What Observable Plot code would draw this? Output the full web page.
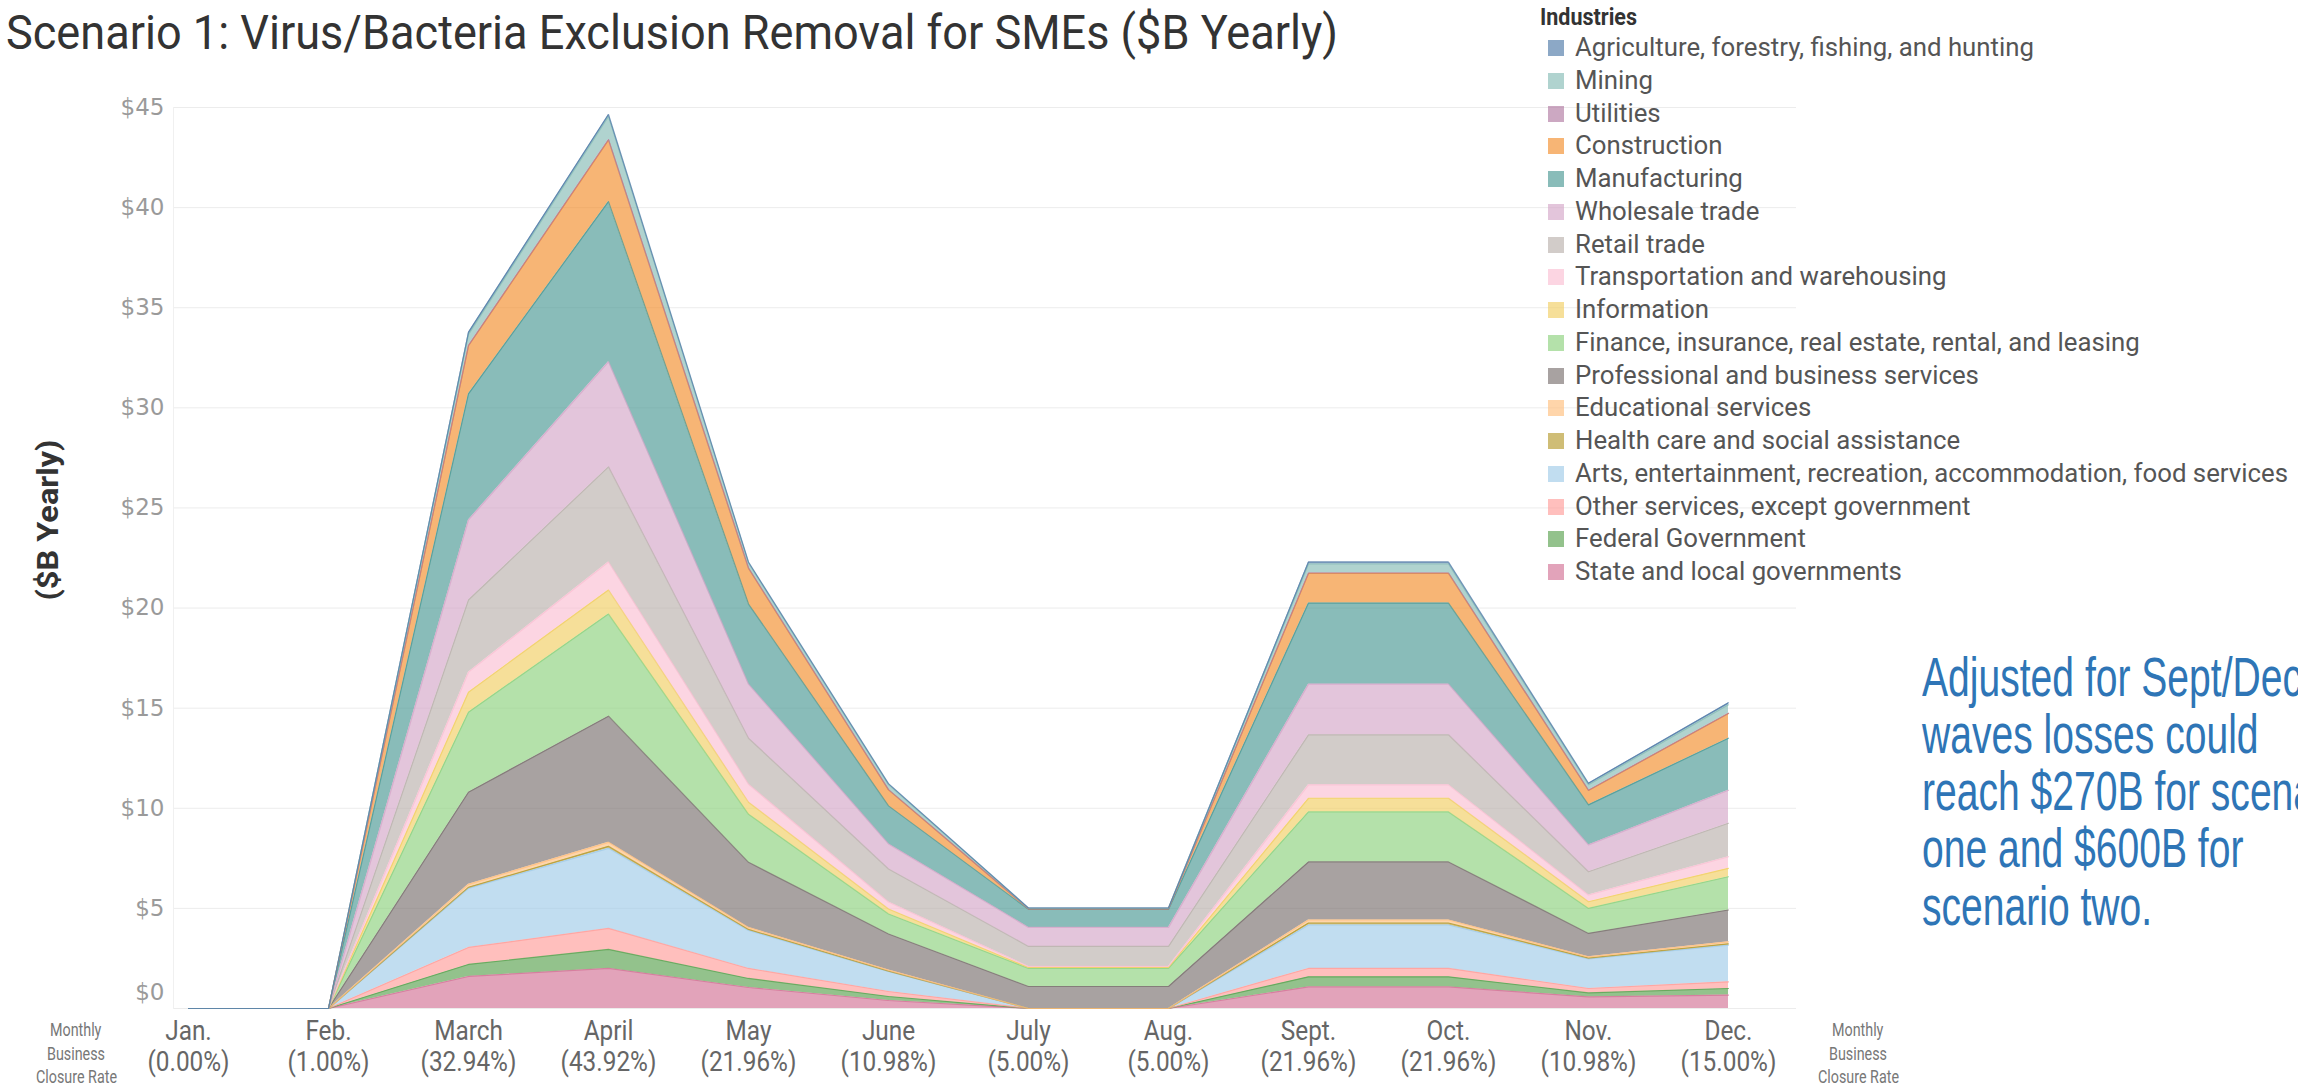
<!DOCTYPE html>
<html><head><meta charset="utf-8">
<script src="https://cdn.jsdelivr.net/npm/d3@7"></script>
<script src="https://cdn.jsdelivr.net/npm/@observablehq/plot@0.6"></script>
<style>
html,body{margin:0;padding:0;background:#fff;width:2298px;height:1088px;overflow:hidden;}
#root{position:relative;width:2298px;height:1088px;overflow:hidden;background:#fff;}
.abs{position:absolute;white-space:nowrap;}
</style></head><body><div id="root"></div>
<script>
// ---------- data ----------
const months = ["Jan.","Feb.","March","April","May","June","July","Aug.","Sept.","Oct.","Nov.","Dec."];
const closureRates = ["0.00%","1.00%","32.94%","43.92%","21.96%","10.98%","5.00%","5.00%","21.96%","21.96%","10.98%","15.00%"];
const yTicks = [0,5,10,15,20,25,30,35,40,45];
const industries = [
  "Agriculture, forestry, fishing, and hunting",
  "Mining",
  "Utilities",
  "Construction",
  "Manufacturing",
  "Wholesale trade",
  "Retail trade",
  "Transportation and warehousing",
  "Information",
  "Finance, insurance, real estate, rental, and leasing",
  "Professional and business services",
  "Educational services",
  "Health care and social assistance",
  "Arts, entertainment, recreation, accommodation, food services",
  "Other services, except government",
  "Federal Government",
  "State and local governments"
];
const industryColors = ["#4e79a7","#86bcb6","#b07aa1","#f28e2b","#499894","#d4a6c8","#bab0ac","#fabfd2","#f1ce63","#8cd17d","#79706e","#ffbe7d","#b6992d","#a0cbe8","#ff9d9a","#59a14f","#d37295"];
// $B yearly, Jan..Dec
const agriculture   = [0,0,0.10,0.10,0.05,0.05,0.02,0.02,0.10,0.10,0.07,0.10];
const mining        = [0,0,0.55,1.15,0.25,0.25,0.02,0.02,0.45,0.45,0.28,0.42];
const utilities     = [0,0,0.02,0.03,0.02,0.01,0,0,0.02,0.02,0.01,0.02];
const construction  = [0,0,2.40,3.07,1.78,0.80,0.03,0.03,1.48,1.48,0.72,1.23];
const manufacturing = [0,0,6.30,8.00,4.00,1.90,0.90,0.90,4.05,4.05,2.00,2.60];
const wholesale     = [0,0,4.00,5.25,2.70,1.25,0.95,0.95,2.53,2.53,1.34,1.65];
const retail        = [0,0,3.60,4.75,2.30,1.65,1.00,1.00,2.50,2.50,1.16,1.67];
const transport     = [0,0,1.00,1.40,0.90,0.35,0.05,0.05,0.67,0.67,0.34,0.58];
const information   = [0,0,1.00,1.20,0.60,0.25,0.05,0.05,0.68,0.68,0.33,0.42];
const finance       = [0,0,4.00,5.10,2.40,1.00,0.90,0.90,2.50,2.50,1.25,1.66];
const professional  = [0,0,4.60,6.30,3.25,1.80,1.10,1.10,2.90,2.90,1.17,1.59];
const educational   = [0,0,0.15,0.20,0.10,0.05,0,0,0.15,0.15,0.06,0.10];
const health        = [0,0,0.05,0.10,0.05,0.02,0,0,0.10,0.10,0.04,0.06];
const arts          = [0,0,2.95,4.00,1.90,1.00,0,0,2.17,2.17,1.48,1.84];
const otherServices = [0,0,0.85,1.05,0.50,0.25,0,0,0.42,0.42,0.22,0.33];
const federal       = [0,0,0.60,0.95,0.45,0.20,0,0,0.50,0.50,0.20,0.33];
const stateLocal    = [0,0,1.60,2.00,1.05,0.40,0,0,1.08,1.08,0.58,0.67];
const seriesValues = [agriculture,mining,utilities,construction,manufacturing,wholesale,retail,transport,information,finance,professional,educational,health,arts,otherServices,federal,stateLocal];
const titleText = "Scenario 1: Virus/Bacteria Exclusion Removal for SMEs ($B Yearly)";
const yLabelText = "($B Yearly)";
const legendTitle = "Industries";
const sideLabel = ["Monthly","Business","Closure Rate"];
const noteLines = ["Adjusted for Sept/Dec","waves losses could","reach $270B for scenario","one and $600B for","scenario two."];

// ---------- table (bottom layer first) ----------
const rows = [];
for (let k = industries.length - 1; k >= 0; k--) {
  for (let i = 0; i < months.length; i++) rows.push({m: i, industry: industries[k], value: seriesValues[k][i]});
}

const root = document.getElementById("root");
const TOP = 70, W = 1800, H = 1018;

const chart = Plot.plot({
  width: W, height: H,
  marginLeft: 173, marginRight: 4, marginTop: 37, marginBottom: 80,
  style: {background: "transparent", fontFamily: "Roboto", overflow: "visible"},
  x: {type: "linear", domain: [0, 11], range: [188, 1728]},
  y: {domain: [0, 45], range: [1008 - TOP, 107 - TOP]},
  color: {domain: industries, range: industryColors},
  marks: [
    Plot.gridY(yTicks, {stroke: "#ececec", strokeOpacity: 1}),
    Plot.frame({anchor: "left", stroke: "#f0f0f0"}),
    Plot.areaY(rows, {x: "m", y: "value", z: "industry", fill: "industry", fillOpacity: 0.65}),
    Plot.lineY(rows, Plot.stackY2({x: "m", y: "value", z: "industry", stroke: "industry", strokeOpacity: 0.75, strokeWidth: 1.2})),
    Plot.axisY(yTicks.filter(d => d > 0), {tickSize: 0, tickPadding: 9, tickFormat: d => "$" + d, fontSize: 23, fontFamily: "DejaVu Sans", fill: "#9a9a9a", label: null}),
    Plot.axisY([0], {tickSize: 0, tickPadding: 9, tickFormat: d => "$" + d, fontSize: 23, fontFamily: "DejaVu Sans", fill: "#9a9a9a", dy: -16, label: null}),
    Plot.axisX(d3.range(12), {tickSize: 0, tickPadding: 9, tickFormat: i => months[i] + "\n(" + closureRates[i] + ")", fontSize: 28, lineHeight: 1.12, fill: "#666", label: null})
  ]
});
chart.style.position = "absolute";
chart.style.left = "0px";
chart.style.top = TOP + "px";
root.appendChild(chart);
chart.querySelectorAll('g[aria-label="x-axis tick label"] text').forEach(t => {
  const tr = t.getAttribute("transform");
  if (tr) t.setAttribute("transform", tr + " scale(0.87,1)");
});

// ---------- html texts ----------
function place(text, o) {
  const el = document.createElement("div");
  el.className = "abs";
  el.textContent = text;
  el.style.fontFamily = o.family;
  el.style.fontSize = o.size + "px";
  el.style.fontWeight = o.weight || 400;
  el.style.color = o.color;
  el.style.lineHeight = (o.lh || Math.round(o.size * 1.25)) + "px";
  root.appendChild(el);
  const r = el.getBoundingClientRect();
  const s = o.width ? o.width / r.width : (o.sx || 1);
  let left = o.x;
  if (o.anchor === "middle") left = o.x - r.width * s / 2;
  el.style.left = left + "px";
  el.style.top = (o.y - r.height / 2) + "px";
  el.style.transformOrigin = "0 50%";
  el.style.transform = "scaleX(" + s + ")";
  return s;
}
function measure(text, font) {
  const tmp = document.createElement("span");
  tmp.style.cssText = "position:absolute;visibility:hidden;white-space:nowrap;font:" + font;
  tmp.textContent = text;
  root.appendChild(tmp);
  const w = tmp.getBoundingClientRect().width;
  tmp.remove();
  return w;
}

place(titleText, {x: 6, y: 32, size: 49, family: "Roboto", color: "#333", width: 1332});

// y label (rotated)
(function () {
  const el = document.createElement("div");
  el.className = "abs";
  el.textContent = yLabelText;
  Object.assign(el.style, {fontFamily: "Roboto", fontSize: "26px", fontWeight: 700, color: "#333", lineHeight: "30px"});
  root.appendChild(el);
  const r = el.getBoundingClientRect();
  const s = 161 / r.width;
  el.style.left = (48 - r.width / 2) + "px";
  el.style.top = (520 - r.height / 2) + "px";
  el.style.transform = "rotate(-90deg) scale(" + s + "," + 1.1 + ")";
})();

// legend
place(legendTitle, {x: 1540, y: 17, size: 23, weight: 700, family: "Roboto", color: "#333", width: 97});
let legendScale = null;
industries.forEach((name, k) => {
  const cy = 48 + k * 32.75;
  const sq = document.createElement("div");
  sq.className = "abs";
  Object.assign(sq.style, {left: "1548px", top: (cy - 8) + "px", width: "16px", height: "16px", background: industryColors[k], opacity: 0.65});
  root.appendChild(sq);
  if (legendScale === null) legendScale = place(name, {x: 1575, y: cy, size: 25, lh: 30, family: "Roboto", color: "#555", width: 459});
  else place(name, {x: 1575, y: cy, size: 25, lh: 30, family: "Roboto", color: "#555", sx: legendScale});
});

// closure rate side labels
const sideScale = 81 / measure(sideLabel[2], "400 19px Roboto");
[76, 1858].forEach(cx => {
  sideLabel.forEach((t, j) => {
    place(t, {x: cx, y: 1030 + j * 23.5, size: 19, lh: 22, family: "Roboto", color: "#777", sx: sideScale, anchor: "middle"});
  });
});

// annotation
const noteScale = 380 / measure(noteLines[0], "400 55px 'Liberation Sans'");
noteLines.forEach((t, j) => {
  place(t, {x: 1922, y: 677 + j * 57.3, size: 55, lh: 55, family: "Liberation Sans", color: "#2e75b6", sx: noteScale});
});
</script></body></html>
